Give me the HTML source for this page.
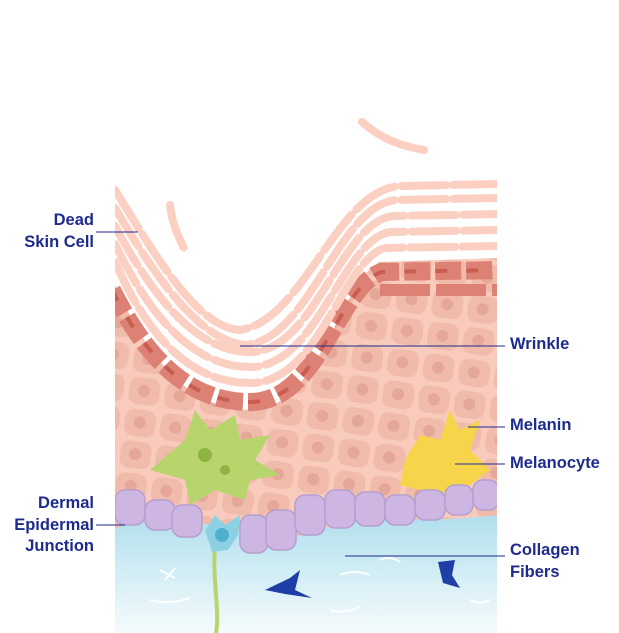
<!DOCTYPE html>
<html><head><meta charset="utf-8"><style>
html,body{margin:0;padding:0;background:#fff;}
svg{display:block}
text{font-family:"Liberation Sans",sans-serif;font-weight:bold;font-size:16.5px;fill:#1d2b8c}
</style></head><body>
<svg width="619" height="633" viewBox="0 0 619 633" xmlns="http://www.w3.org/2000/svg">
<defs>
<linearGradient id="derm" x1="0" y1="0" x2="0" y2="1">
<stop offset="0" stop-color="#a8dbea"/><stop offset="0.6" stop-color="#d6eff6"/><stop offset="1" stop-color="#f6fbfd"/>
</linearGradient>
<pattern id="cells" width="36" height="32" patternUnits="userSpaceOnUse" patternTransform="rotate(8)">
<rect width="36" height="32" fill="#f8cbbd"/>
<rect x="2" y="2" width="31" height="27" rx="9" fill="#f1bbab"/>
<circle cx="17" cy="15" r="6" fill="#e4a798"/>
</pattern>
<clipPath id="blk"><rect x="115" y="170" width="382" height="463"/></clipPath>
</defs>
<g clip-path="url(#blk)">
<rect x="115" y="500" width="382" height="133" fill="url(#derm)"/>
<path d="M115,285 C140,340 180,410 250,410 C320,410 340,280 380,262 L497,258 L497,515 C420,525 380,512 320,530 C270,548 230,525 180,520 C150,517 130,525 115,528 Z" fill="url(#cells)"/>
<path d="M112,290 C140,345 180,402 250,402 C320,402 338,285 382,272 L500,270" fill="none" stroke="#dc8174" stroke-width="18" stroke-dasharray="26 5"/>
<path d="M112,290 C140,345 180,402 250,402 C320,402 338,285 382,272 L500,270" fill="none" stroke="#c85d50" stroke-width="4" stroke-dasharray="12 19"/>
<path d="M380,290 L500,290" stroke="#dc8174" stroke-width="12" stroke-dasharray="50 6"/>
<g fill="none" stroke="#fccfc3" stroke-width="8" stroke-linecap="round" stroke-dasharray="45 7">
<path d="M115,262 C140,318 180,383 250,383 C320,383 342,260 385,248 L500,246"/>
<path d="M115,244 C142,300 185,367 250,367 C318,367 342,240 390,232 L500,230"/>
<path d="M115,226 C145,282 190,352 250,352 C315,352 340,222 393,216 L500,214"/>
<path d="M115,208 C148,264 195,340 245,345 C310,340 338,205 396,200 L500,198"/>
<path d="M115,190 C150,246 195,328 240,330 C305,320 336,190 400,186 L500,184"/>
<path d="M170,205 C172,225 180,240 185,250"/>
</g>
<path d="M150,470 L185,440 L195,410 L210,430 L235,415 L240,440 L270,435 L255,460 L280,475 L250,480 L245,500 L215,490 L190,505 L185,480 Z" fill="#b8d46c"/>
<circle cx="205" cy="455" r="7" fill="#8fb443"/><circle cx="225" cy="470" r="5" fill="#8fb443"/>
<path d="M405,460 L420,435 L440,440 L450,410 L460,430 L480,420 L470,450 L490,470 L470,485 L445,495 L420,490 L400,485 Z" fill="#f6d54a"/>
<g fill="#cdb7e2" stroke="#b59fd0" stroke-width="1.5">
<rect x="115" y="490" width="30" height="35" rx="10"/><rect x="145" y="500" width="30" height="30" rx="10"/>
<rect x="172" y="505" width="30" height="32" rx="10"/><rect x="240" y="515" width="28" height="38" rx="10"/>
<rect x="266" y="510" width="30" height="40" rx="10"/><rect x="295" y="495" width="30" height="40" rx="10"/>
<rect x="325" y="490" width="30" height="38" rx="10"/><rect x="355" y="492" width="30" height="34" rx="10"/>
<rect x="385" y="495" width="30" height="30" rx="10"/><rect x="415" y="490" width="30" height="30" rx="10"/>
<rect x="445" y="485" width="28" height="30" rx="10"/><rect x="473" y="480" width="26" height="30" rx="10"/>
</g>
<path d="M215,545 C212,580 220,610 216,633" stroke="#b8d46c" stroke-width="4" fill="none"/>
<path d="M205,530 L215,515 L225,525 L240,515 L238,535 L228,550 L212,552 Z" fill="#8cd1e3"/>
<circle cx="222" cy="535" r="7" fill="#4fb0cf"/>
<path d="M265,590 L290,578 L300,570 L295,590 L312,598 L285,594 Z" fill="#1f3fa6"/>
<path d="M438,562 L455,560 L452,575 L460,588 L443,583 Z" fill="#1f3fa6"/>
<g stroke="#fff" stroke-width="2" fill="none" opacity="0.9">
<path d="M160,570 l15,8 M165,580 l10,-12 M340,575 q15,-6 30,0 M380,560 q10,-5 20,2 M470,600 q10,5 20,0 M150,600 q20,5 40,-2 M330,610 q15,4 30,-3"/>
</g>
</g>
<path d="M362,122 C380,138 400,146 424,150" stroke="#fccfc3" stroke-width="8" fill="none" stroke-linecap="round"/>
<g stroke="#1d2b8c" stroke-width="1">
<line x1="96" y1="232" x2="138" y2="232"/>
<line x1="240" y1="346" x2="505" y2="346"/>
<line x1="468" y1="427" x2="505" y2="427"/>
<line x1="455" y1="464" x2="505" y2="464"/>
<line x1="96" y1="525" x2="125" y2="525"/>
<line x1="345" y1="556" x2="505" y2="556"/>
</g>
<text x="94" y="225" text-anchor="end">Dead</text>
<text x="94" y="247" text-anchor="end">Skin Cell</text>
<text x="510" y="349">Wrinkle</text>
<text x="510" y="430">Melanin</text>
<text x="510" y="468">Melanocyte</text>
<text x="94" y="508" text-anchor="end">Dermal</text>
<text x="94" y="530" text-anchor="end">Epidermal</text>
<text x="94" y="551" text-anchor="end">Junction</text>
<text x="510" y="555">Collagen</text>
<text x="510" y="577">Fibers</text>
</svg>
</body></html>
